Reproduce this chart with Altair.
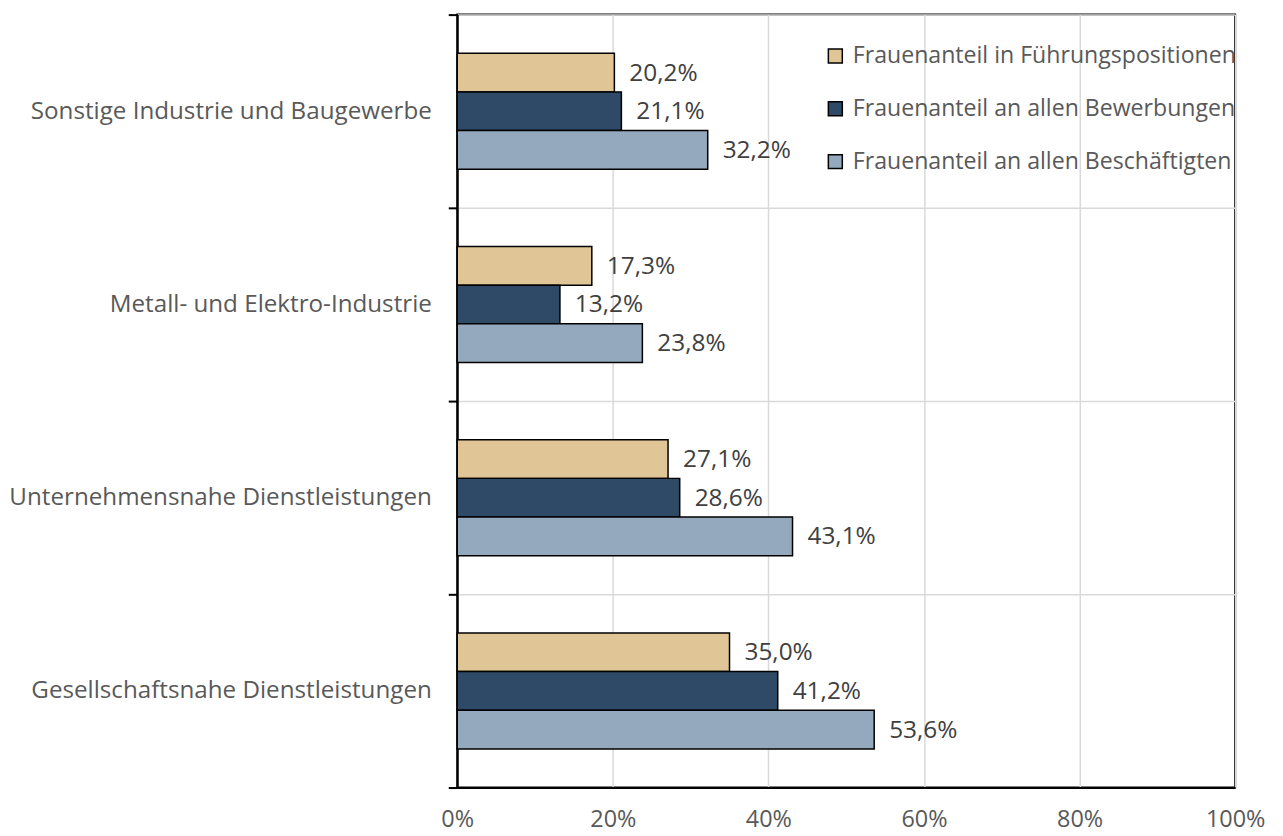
import altair as alt
import pandas as pd

categories = [
    "Sonstige Industrie und Baugewerbe",
    "Metall- und Elektro-Industrie",
    "Unternehmensnahe Dienstleistungen",
    "Gesellschaftsnahe Dienstleistungen",
]
series = [
    "Frauenanteil in Führungspositionen",
    "Frauenanteil an allen Bewerbungen",
    "Frauenanteil an allen Beschäftigten",
]
fuehrung = [20.2, 17.3, 27.1, 35.0]
bewerbungen = [21.1, 13.2, 28.6, 41.2]
beschaeftigte = [32.2, 23.8, 43.1, 53.6]
colors = ["#E0C597", "#2E4A66", "#94A9BD"]
x_ticks = [0, 20, 40, 60, 80, 100]

rows = []
for s, vals in zip(series, [fuehrung, bewerbungen, beschaeftigte]):
    for c, v in zip(categories, vals):
        rows.append({"Branche": c, "Reihe": s, "Wert": v})
df = pd.DataFrame(rows)

FONT = "Open Sans"
AXIS_GREY = "#595959"

base = alt.Chart(df).encode(
    y=alt.Y(
        "Branche:N",
        sort=categories,
        scale=alt.Scale(paddingInner=0, paddingOuter=0),
        axis=alt.Axis(
            title=None,
            tickBand="extent",
            grid=True,
            gridColor="#d9d9d9",
            gridWidth=1.5,
            domainColor="black",
            domainWidth=2,
            tickColor="black",
            tickWidth=2,
            tickSize=9,
            labelPadding=17,
            labelFontSize=24.3,
            labelFont=FONT,
            labelColor=AXIS_GREY,
            labelLimit=600,
        ),
    ),
    yOffset=alt.YOffset(
        "Reihe:N", sort=series, scale=alt.Scale(paddingInner=0, paddingOuter=1)
    ),
    x=alt.X(
        "Wert:Q",
        scale=alt.Scale(domain=[0, 100], nice=False),
        axis=alt.Axis(
            title=None,
            values=x_ticks,
            labelExpr="datum.value + '%'",
            ticks=False,
            grid=True,
            gridColor="#d9d9d9",
            gridWidth=1.5,
            domainColor="black",
            domainWidth=2,
            labelPadding=20,
            labelFontSize=23.5,
            labelFont=FONT,
            labelColor=AXIS_GREY,
            labelFlush=False,
            labelOverlap=False,
        ),
    ),
)

bars = base.mark_bar(stroke="black", strokeWidth=1.5).encode(
    color=alt.Color(
        "Reihe:N",
        sort=series,
        scale=alt.Scale(domain=series, range=colors),
        legend=alt.Legend(
            title=None,
            orient="none",
            legendX=368,
            legendY=30,
            padding=0,
            symbolType="square",
            symbolSize=196,
            symbolStrokeColor="black",
            symbolStrokeWidth=1.5,
            symbolOpacity=1,
            labelFontSize=23.2,
            labelFont=FONT,
            labelColor=AXIS_GREY,
            labelOffset=6,
            rowPadding=29,
            labelLimit=600,
        ),
    )
)

texts = base.transform_calculate(
    label="replace(format(datum.Wert, '.1f'), '.', ',') + '%'"
).mark_text(
    align="left", baseline="middle", dx=15, dy=1, fontSize=24.5, font=FONT, color="#404040"
).encode(text="label:N")

chart = (
    alt.layer(bars, texts)
    .properties(
        width=781,
        height=776,
        autosize=alt.AutoSizeParams(type="none"),
        padding={"left": 451, "top": 5, "right": 40, "bottom": 46},
    )
    .configure_view(stroke="black", strokeWidth=2)
)

chart.save("out.html", embed_options={"renderer": "svg", "actions": False})
